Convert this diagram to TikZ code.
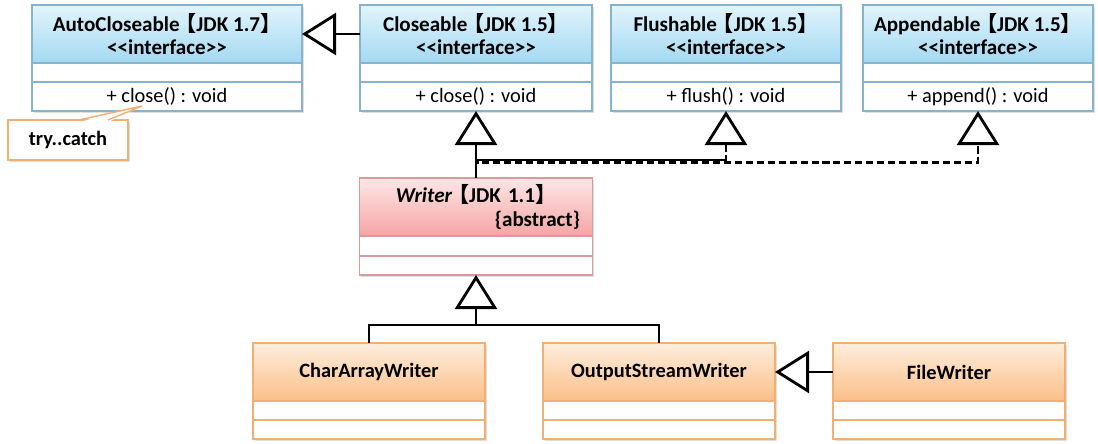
\documentclass[tikz,border=0pt]{standalone}
\usepackage{fontspec}
\setmainfont{Carlito}[Ligatures=TeXOff]
\newfontfamily\cjk{Noto Sans CJK SC}
\usetikzlibrary{arrows.meta, positioning, shadows}
\definecolor{IfaceTop}{HTML}{E2F4FC}
\definecolor{IfaceBot}{HTML}{A3D9F2}
\definecolor{IfaceLine}{HTML}{86B4CC}
\definecolor{AbsTop}{HTML}{FDE6E6}
\definecolor{AbsBot}{HTML}{F5A5A5}
\definecolor{AbsLine}{HTML}{D89A9A}
\definecolor{ClsTop}{HTML}{FEEEDD}
\definecolor{ClsBot}{HTML}{FBBF88}
\definecolor{ClsLine}{HTML}{F2AF72}
\newcommand{\jdk}[1]{\kern-0.2em{\cjk 【}JDK #1{\cjk 】}}
\newcommand{\iface}{<<interface>>}

\begin{document}
\begin{tikzpicture}[
        x=0.025cm, y=-0.025cm,
        font=\fontsize{14.5}{16}\selectfont,
        box/.style={draw, outer sep=0pt, inner sep=0pt, align=center, line width=0.8pt,
          drop shadow={opacity=0.25, shadow xshift=1.2pt, shadow yshift=-1.2pt}},
        ihead/.style={box, draw=IfaceLine, top color=IfaceTop, bottom color=IfaceBot, minimum height=1.45cm, font=\fontsize{15}{16}\selectfont\bfseries},
        irow/.style={box, draw=IfaceLine, fill=white},
        ahead/.style={box, draw=AbsLine, top color=AbsTop, bottom color=AbsBot, minimum height=1.45cm, font=\fontsize{15}{17.5}\selectfont\bfseries},
        arow/.style={box, draw=AbsLine, fill=white},
        chead/.style={box, draw=ClsLine, top color=ClsTop, bottom color=ClsBot, minimum height=1.45cm, font=\fontsize{14.5}{16}\selectfont\bfseries},
        crow/.style={box, draw=ClsLine, fill=white},
        note/.style={draw=ClsLine, fill=white, line width=1pt, minimum width=3cm, minimum height=1cm, font=\fontsize{14.5}{16}\selectfont\bfseries,
          drop shadow={opacity=0.25, shadow xshift=1.2pt, shadow yshift=-1.2pt}},
        line/.style={line width=2pt, draw=black},
        gen/.style={line, -{Triangle[open, length=0.85cm, width=1.05cm]}},
        real/.style={gen, dash pattern=on 5pt off 2.8pt}
      ]
        \useasboundingbox (0,0) rectangle (1098,444);

        % interfaces
        \node[ihead, minimum width=6.75cm] (ac) at (167,34) {AutoCloseable\jdk{1.7}\\\iface};
        \node[irow, minimum width=6.75cm, minimum height=0.475cm, below=0pt of ac] (ac-a) {};
        \node[irow, minimum width=6.75cm, minimum height=0.725cm, below=0pt of ac-a] (ac-m) {+ close() : void};

        \node[ihead, minimum width=5.8cm] (cl) at (476,34) {Closeable\jdk{1.5}\\\iface};
        \node[irow, minimum width=5.8cm, minimum height=0.475cm, below=0pt of cl] (cl-a) {};
        \node[irow, minimum width=5.8cm, minimum height=0.725cm, below=0pt of cl-a] (cl-m) {+ close() : void};

        \node[ihead, minimum width=5.75cm] (fl) at (726,34) {Flushable\jdk{1.5}\\\iface};
        \node[irow, minimum width=5.75cm, minimum height=0.475cm, below=0pt of fl] (fl-a) {};
        \node[irow, minimum width=5.75cm, minimum height=0.725cm, below=0pt of fl-a] (fl-m) {+ flush() : void};

        \node[ihead, minimum width=5.75cm] (ap) at (978,34) {Appendable\jdk{1.5}\\\iface};
        \node[irow, minimum width=5.75cm, minimum height=0.475cm, below=0pt of ap] (ap-a) {};
        \node[irow, minimum width=5.75cm, minimum height=0.725cm, below=0pt of ap-a] (ap-m) {+ append() : void};

        % abstract class
        \node[ahead, minimum width=5.825cm, text width=5.2cm] (wr) at (476,207) {\textit{Writer}\jdk{1.1}\\\mbox{}\hfill\{abstract\}};
        \node[arow, minimum width=5.825cm, minimum height=0.5cm, below=0pt of wr] (wr-a) {};
        \node[arow, minimum width=5.825cm, minimum height=0.475cm, below=0pt of wr-a] (wr-b) {};

        % classes
        \node[chead, minimum width=5.8cm] (ca) at (369,372) {CharArrayWriter};
        \node[crow, minimum width=5.8cm, minimum height=0.475cm, below=0pt of ca] (ca-a) {};
        \node[crow, minimum width=5.8cm, minimum height=0.475cm, below=0pt of ca-a] (ca-b) {};

        \node[chead, minimum width=5.8cm] (os) at (659,372) {OutputStreamWriter};
        \node[crow, minimum width=5.8cm, minimum height=0.475cm, below=0pt of os] (os-a) {};
        \node[crow, minimum width=5.8cm, minimum height=0.475cm, below=0pt of os-a] (os-b) {};

        \node[chead, minimum width=5.8cm] (fw) at (949,372) {FileWriter};
        \node[crow, minimum width=5.8cm, minimum height=0.475cm, below=0pt of fw] (fw-a) {};
        \node[crow, minimum width=5.8cm, minimum height=0.475cm, below=0pt of fw-a] (fw-b) {};

        % note
        \node[note] (tc) at (68,140) {try..catch};
        \coordinate (tip) at (142,106);
        \coordinate (pa) at (79,120);
        \coordinate (pb) at (108,120);
        \fill[white] ([yshift=-1.5pt]pa) -- (tip) -- ([yshift=-1.5pt]pb) -- cycle;
        \draw[ClsLine, line width=1pt] (pa) -- (tip) -- (pb);

        % junctions
        \coordinate (jw) at (476,160);
        \coordinate (js) at (726,160);
        \coordinate (jd) at (726,162.5);
        \coordinate (jb) at (476,325);

        \draw[gen] (cl.west) -- (ac.east);
        \draw[gen] (wr.north) -- (cl-m.south);
        \draw[line] (jw) -- (js);
        \draw[real] (wr.north) |- (jd) -| (ap-m.south);
        \draw[real] (jd) -- (fl-m.south);
        \draw[gen] (ca.north) |- (jb) -- (wr-b.south);
        \draw[line] (os.north) |- (jb);
        \draw[gen] (fw.west) -- (os.east);
      \end{tikzpicture}
\end{document}
